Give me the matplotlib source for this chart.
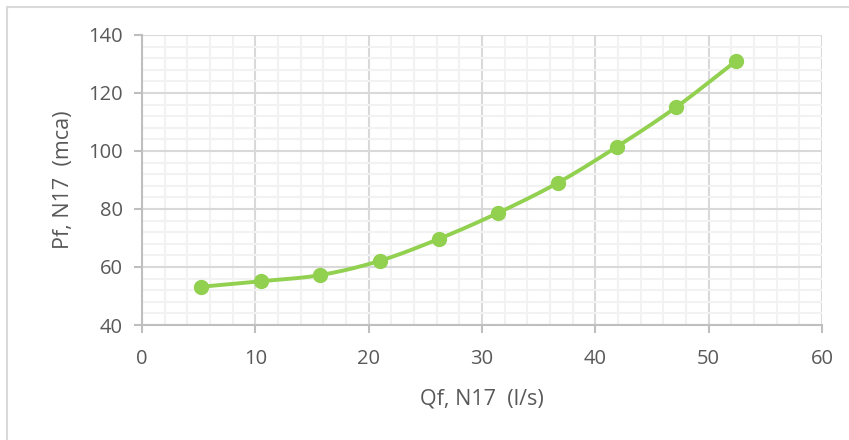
import numpy as np
import matplotlib.pyplot as plt
from matplotlib.patches import Rectangle
from matplotlib.ticker import MultipleLocator

# Qf (l/s) vs Pf (mca), node N17
qf = [5.24, 10.48, 15.72, 20.96, 26.2, 31.44, 36.68, 41.92, 47.16, 52.4]
pf = [53.2, 55.1, 57.2, 62.1, 69.7, 78.7, 89.0, 101.5, 115.2, 131.0]

x_label = "Qf, N17  (l/s)"
y_label = "Pf, N17  (mca)"

green = "#92D050"
text_col = "#595959"
major_col = "#D9D9D9"
minor_col = "#F2F2F2"


def smooth(x, y, n=30):
    # Catmull-Rom through the points, like Excel's "smoothed line"
    x = np.asarray(x, float)
    y = np.asarray(y, float)
    px = np.r_[2 * x[0] - x[1], x, 2 * x[-1] - x[-2]]
    py = np.r_[2 * y[0] - y[1], y, 2 * y[-1] - y[-2]]
    xs, ys = [], []
    t = np.linspace(0, 1, n)
    for i in range(1, len(px) - 2):
        for p, out in ((px, xs), (py, ys)):
            p0, p1, p2, p3 = p[i - 1], p[i], p[i + 1], p[i + 2]
            out.extend(0.5 * (2 * p1 + (-p0 + p2) * t
                              + (2 * p0 - 5 * p1 + 4 * p2 - p3) * t ** 2
                              + (-p0 + 3 * p1 - 3 * p2 + p3) * t ** 3))
    return xs, ys


plt.rcParams['font.family'] = ['Open Sans', 'DejaVu Sans']

fig = plt.figure(figsize=(8.49, 4.40), dpi=100)
ax = fig.add_axes([142 / 849, 1 - 325 / 440, 680 / 849, 290 / 440])

# chart area border (only top/left visible in the crop)
fig.patches.append(Rectangle((7 / 849, -0.1), 1.2, 1 - 7 / 440 + 0.1,
                             transform=fig.transFigure, fill=False,
                             edgecolor=major_col, lw=1.5))

sx, sy = smooth(qf, pf)
ax.plot(sx, sy, color=green, lw=2.8, solid_capstyle='round', zorder=3)
ax.plot(qf, pf, 'o', color=green, ms=10, zorder=4)

ax.set_xlim(0, 60)
ax.set_ylim(40, 140)
ax.xaxis.set_major_locator(MultipleLocator(10))
ax.xaxis.set_minor_locator(MultipleLocator(2))
ax.yaxis.set_major_locator(MultipleLocator(20))
ax.yaxis.set_minor_locator(MultipleLocator(4))

ax.grid(which='minor', color=minor_col, lw=1.5, zorder=0)
ax.grid(which='major', color=major_col, lw=1.5, zorder=1)
ax.set_axisbelow(True)

for s in ('top', 'right'):
    ax.spines[s].set_visible(False)
for s in ('left', 'bottom'):
    ax.spines[s].set_color("#BFBFBF")
    ax.spines[s].set_linewidth(1.5)

ax.tick_params(which='major', length=6, width=1.5, color="#BFBFBF",
               labelsize=14.5, labelcolor=text_col)
ax.tick_params(axis='x', which='major', pad=11)
ax.tick_params(axis='y', which='major', pad=8)
ax.tick_params(which='minor', length=0)

ax.set_xlabel(x_label, fontsize=15.5, color=text_col, labelpad=14)
ax.set_ylabel(y_label, fontsize=15.5, color=text_col, labelpad=10)

fig.savefig("out.png", dpi=100)
